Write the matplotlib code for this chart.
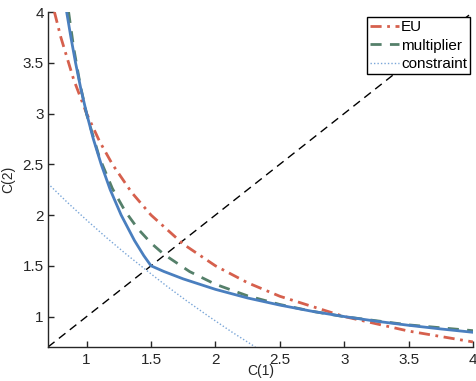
import matplotlib
matplotlib.use("Agg")
import matplotlib.pyplot as plt

plt.rcParams['font.family'] = ['Liberation Sans', 'DejaVu Sans']

# EU indifference curve
eu_c1 = [0.75, 0.8, 0.9, 1.0, 1.1, 1.2, 1.35, 1.5, 1.75, 2.0, 2.25, 2.5, 3.0, 3.5, 4.0]
eu_c2 = [4.0, 3.75, 3.333, 3.0, 2.727, 2.5, 2.222, 2.0, 1.714, 1.5, 1.333, 1.2, 1.0, 0.857, 0.75]

# multiplier indifference curve
mult_c1 = [0.86, 0.9, 0.95, 1.0, 1.1, 1.2, 1.3, 1.4, 1.5, 1.6, 1.8, 2.0, 2.25, 2.5, 2.75, 3.0, 3.5, 4.0]
mult_c2 = [4.0, 3.643, 3.282, 2.993, 2.564, 2.261, 2.036, 1.862, 1.724, 1.613, 1.443, 1.318, 1.204, 1.119, 1.052, 0.999, 0.918, 0.861]

# constraint
con_c1 = [0.7, 0.85, 1.0, 1.15, 1.3, 1.46, 1.622, 1.782, 1.95, 2.125, 2.31]
con_c2 = [2.31, 2.125, 1.95, 1.782, 1.622, 1.46, 1.3, 1.15, 1.0, 0.85, 0.7]

# max-min (kinked) indifference curve
mm_c1 = [0.845, 0.878, 0.914, 0.954, 1.0, 1.052, 1.113, 1.183, 1.268, 1.371, 1.444, 1.5,
         1.6, 1.75, 2.0, 2.25, 2.5, 2.75, 3.0, 3.25, 3.5, 3.75, 4.0]
mm_c2 = [4.0, 3.75, 3.5, 3.25, 3.0, 2.75, 2.5, 2.25, 2.0, 1.75, 1.6, 1.5,
         1.444, 1.371, 1.268, 1.183, 1.113, 1.052, 1.0, 0.954, 0.914, 0.878, 0.845]

diag = [0.7, 4.0]

xticks = [1, 1.5, 2, 2.5, 3, 3.5, 4]
yticks = [1, 1.5, 2, 2.5, 3, 3.5, 4]
xtick_labels = ['1', '1.5', '2', '2.5', '3', '3.5', '4']
ytick_labels = ['1', '1.5', '2', '2.5', '3', '3.5', '4']

fig = plt.figure(figsize=(4.77, 3.81), dpi=100)
ax = fig.add_axes([0.1006, 0.0892, 0.8910, 0.8793])

ax.plot(diag, diag, color='black', lw=1.0, ls=(0, (6, 4)))
ax.plot(eu_c1, eu_c2, color='#d6604d', lw=2.0, ls=(0, (4, 2, 1, 2)), label='EU')
ax.plot(mult_c1, mult_c2, color='#55806a', lw=2.0, ls=(0, (4, 3)), label='multiplier')
ax.plot(con_c1, con_c2, color='#7aa6d8', lw=1.0, ls=(0, (1, 1.5)), label='constraint')
ax.plot(mm_c1, mm_c2, color='#4a7fbf', lw=2.0, solid_joinstyle='miter')

ax.set_xlim(0.7, 4.0)
ax.set_ylim(0.7, 4.0)
ax.set_xticks(xticks)
ax.set_xticklabels(xtick_labels)
ax.set_yticks(yticks)
ax.set_yticklabels(ytick_labels)
ax.tick_params(direction='in', length=4, width=1, labelsize=11, colors='#262626')
ax.tick_params(axis='y', pad=3)
ax.tick_params(axis='x', pad=4)

for s in ['top', 'right']:
    ax.spines[s].set_visible(False)
for s in ['left', 'bottom']:
    ax.spines[s].set_color('#262626')
    ax.spines[s].set_linewidth(1.0)

ax.set_xlabel('C(1)', fontsize=10, color='#262626')
ax.set_ylabel('C(2)', fontsize=10, color='#262626')
ax.xaxis.set_label_coords(0.5, -0.052)
ax.yaxis.set_label_coords(-0.078, 0.5)

leg = ax.legend(loc='upper right', bbox_to_anchor=(0.993, 0.985), fontsize=11,
                handlelength=1.9, handletextpad=0.15, borderpad=0.2, labelspacing=0.3,
                fancybox=False, framealpha=1, borderaxespad=0)
leg.get_frame().set_edgecolor('black')
leg.get_frame().set_linewidth(1.0)

fig.savefig('out.png', dpi=100)
